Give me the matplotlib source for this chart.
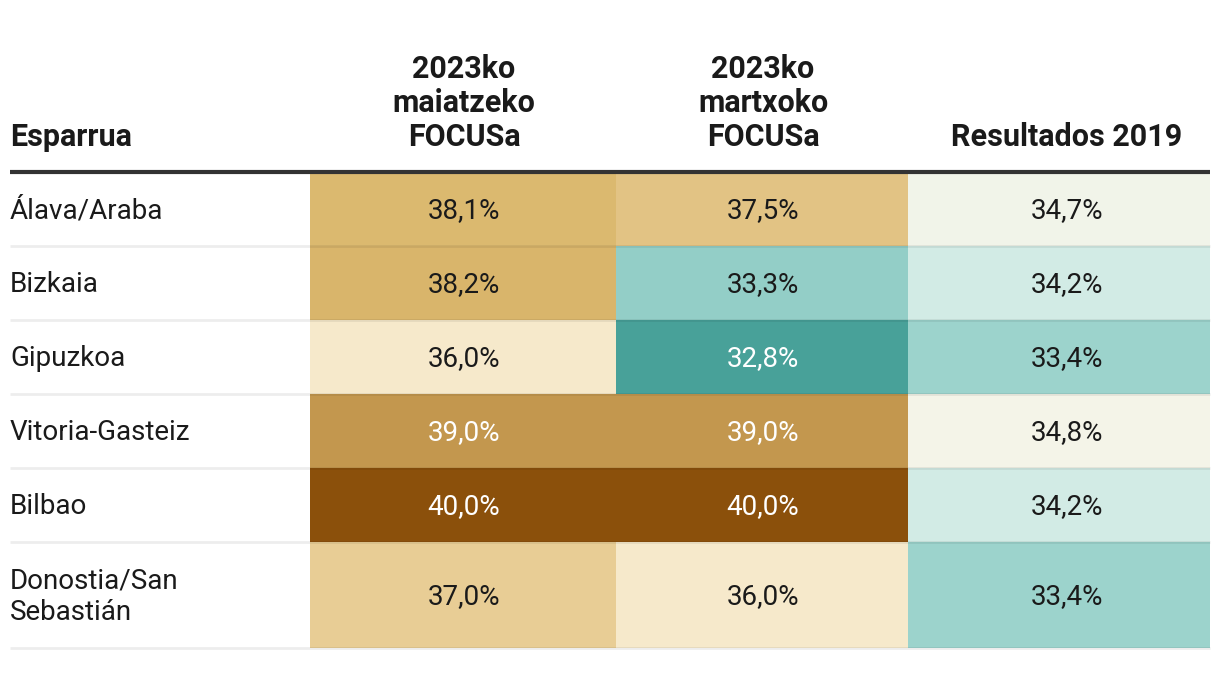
import numpy as np
import matplotlib.pyplot as plt
from matplotlib.colors import LinearSegmentedColormap, to_rgb

plt.rcParams['font.family'] = ['Roboto', 'DejaVu Sans']

# table data
regions = ["Álava/Araba", "Bizkaia", "Gipuzkoa", "Vitoria-Gasteiz", "Bilbao",
           "Donostia/San\nSebastián"]
headers = ["Esparrua", "2023ko\nmaiatzeko\nFOCUSa", "2023ko\nmartxoko\nFOCUSa",
           "Resultados 2019"]
focus_may = [38.1, 38.2, 36.0, 39.0, 40.0, 37.0]
focus_mar = [37.5, 33.3, 32.8, 39.0, 40.0, 36.0]
results_2019 = [34.7, 34.2, 33.4, 34.8, 34.2, 33.4]

# colour scale (value -> colour), teal for low, brown for high
scale_vals = [32.8, 33.3, 34.2, 34.75, 36.0, 37.0, 37.5, 38.15, 39.0, 40.0]
scale_cols = ["#48a199", "#96d0c9", "#d3ece6", "#f4f5e9", "#f6e9cb",
              "#e8cd95", "#e2c385", "#dbb86e", "#c4984f", "#8b500b"]
lo, hi = scale_vals[0], scale_vals[-1]
cmap = LinearSegmentedColormap.from_list(
    "scale", [((v - lo) / (hi - lo), c) for v, c in zip(scale_vals, scale_cols)])

fig = plt.figure(figsize=(12.2, 7), dpi=100)
ax = fig.add_axes([0, 0, 1, 1])
ax.set_xlim(0, 1220)
ax.set_ylim(700, 0)
ax.axis("off")

col_edges = [10, 310, 616, 908, 1210]
text_x = [10, 464, 763, 1067]
row_edges = [172, 246, 320, 394, 468, 542, 648]
header_base = 146
line_gap = 34

# headers
for j, h in enumerate(headers):
    lines = h.split("\n")
    ha = "left" if j == 0 else "center"
    for k, ln in enumerate(reversed(lines)):
        ax.text(text_x[j], header_base - k * line_gap, ln, ha=ha, va="baseline",
                fontsize=22, fontweight="bold", color="#1a1a1a")

ax.plot([col_edges[0], col_edges[-1]], [172, 172], color="#333333", lw=3,
        solid_capstyle="butt", zorder=5)

columns = [focus_may, focus_mar, results_2019]
for i, name in enumerate(regions):
    y0, y1 = row_edges[i], row_edges[i + 1]
    yc = (y0 + y1) / 2
    ax.text(text_x[0], yc + 2, name, ha="left", va="center", fontsize=20,
            color="#1a1a1a", linespacing=1.2)
    for j, vals in enumerate(columns):
        v = vals[i]
        c = cmap((v - lo) / (hi - lo))
        ax.add_patch(plt.Rectangle((col_edges[j + 1], y0), col_edges[j + 2] - col_edges[j + 1],
                                   y1 - y0, facecolor=c, edgecolor="none", zorder=1))
        r, g, b = to_rgb(c)
        lum = 0.299 * r + 0.587 * g + 0.114 * b
        tc = "white" if lum < 0.62 else "#1a1a1a"
        ax.text(text_x[j + 1], yc + 2,
                f"{v:.1f}%".replace(".", ","), ha="center", va="center",
                fontsize=20, color=tc, zorder=3)
    ax.plot([col_edges[0], col_edges[-1]], [y1, y1], color="black", alpha=0.07,
            lw=2, solid_capstyle="butt", zorder=2)

fig.savefig("out.png", dpi=100)
